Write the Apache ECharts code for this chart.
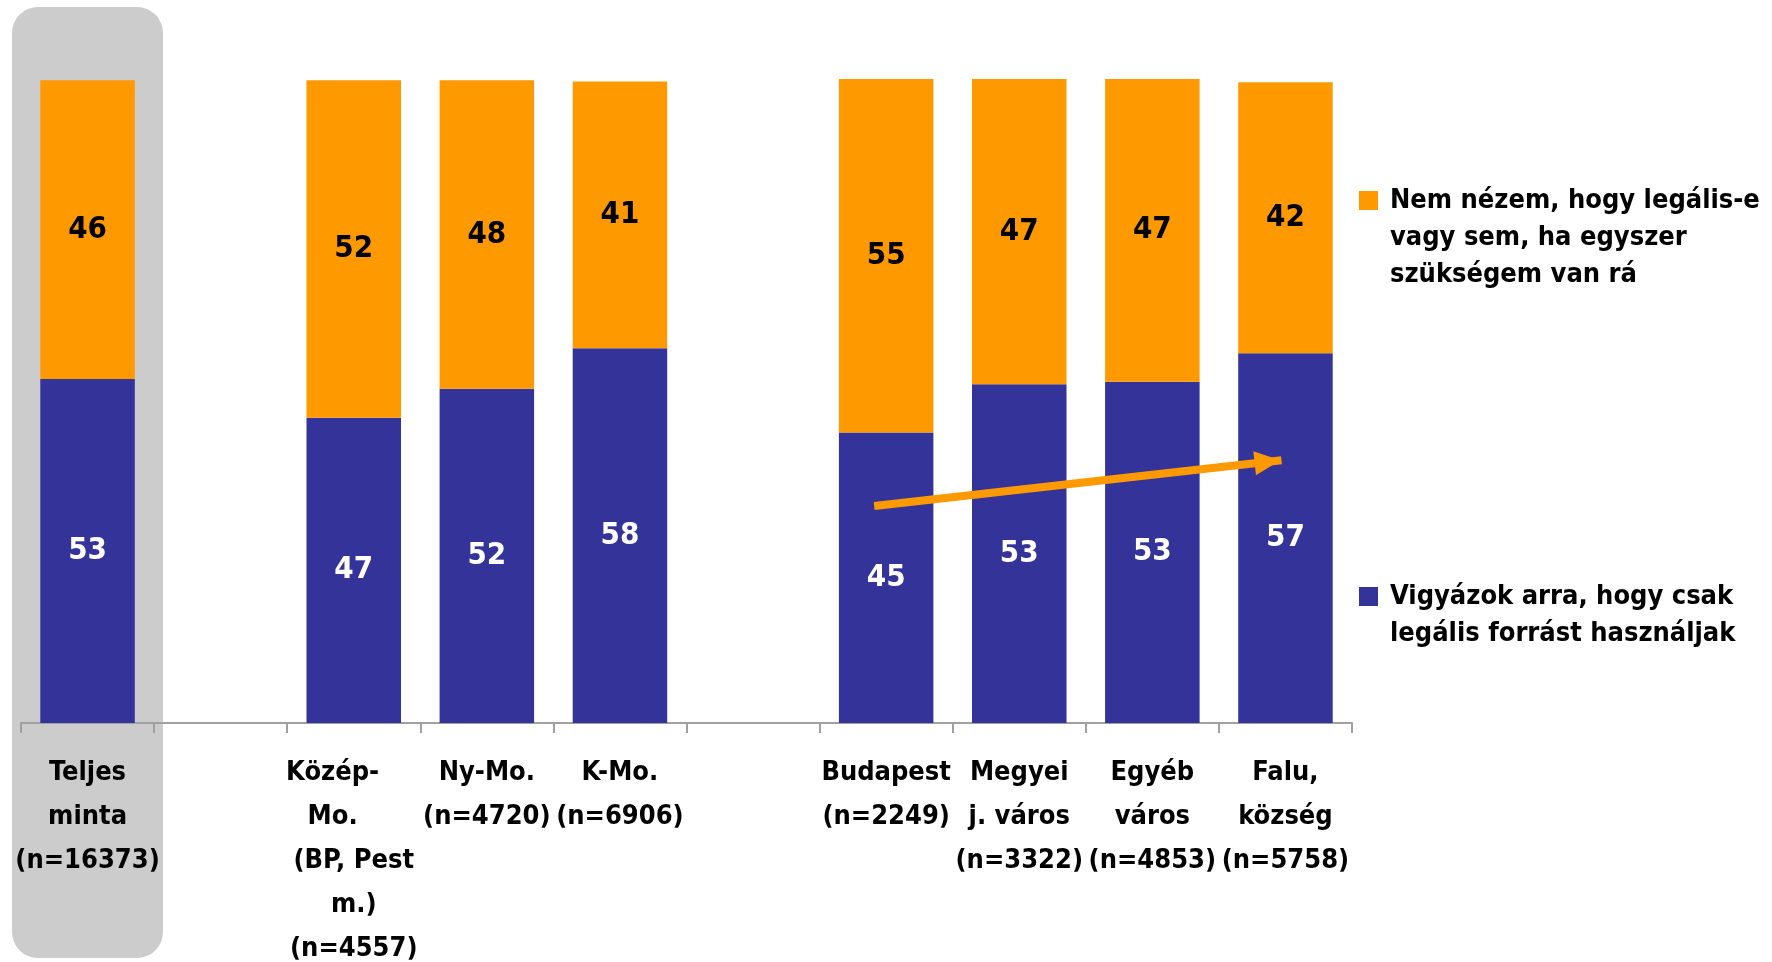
<!DOCTYPE html>
<html>
<head>
<meta charset="utf-8">
<title>Legális forrás</title>
<script src="https://cdn.jsdelivr.net/npm/echarts@6/dist/echarts.min.js"></script>
<style>
  html, body { margin: 0; padding: 0; background: #fff; }
  #chart { width: 1772px; height: 962px; }
</style>
</head>
<body>
<div id="chart"></div>
<script>
// kategóriák (üres oszlopok a csoportok között)
var categories = [
  'Teljes\nminta\n(n=16373)',
  '',
  'Közép-     \nMo.     \n(BP, Pest\nm.)\n(n=4557)',
  'Ny-Mo.\n(n=4720)',
  'K-Mo.\n(n=6906)',
  '',
  'Budapest\n(n=2249)',
  'Megyei\nj. város\n(n=3322)',
  'Egyéb\nváros\n(n=4853)',
  'Falu,\nközség\n(n=5758)'
];
var legalName = 'Vigyázok arra, hogy csak\nlegális forrást használjak';
var notLookName = 'Nem nézem, hogy legális-e\nvagy sem, ha egyszer\nszükségem van rá';
// %
var legalValues = [53.4, '-', 47.4, 51.9, 58.2, '-', 45.1, 52.6, 53.0, 57.4];
var notLookValues = [46.4, '-', 52.4, 47.9, 41.4, '-', 54.9, 47.4, 47.0, 42.1];
// trend nyíl (Budapest -> Falu), x = kategória sorszám
var arrowFrom = [5.91, 33.7];
var arrowTo = [8.97, 40.8];

var font = '"DejaVu Sans Condensed", "DejaVu Sans", sans-serif';

// négyzet a szöveg első sorához igazítva (a láthatatlan pontok csak a méretet adják)
function legendIcon(h) {
  return 'path://M25.99,0h0.01v0.01h-0.01Z M0,9h19v19h-19Z M0,' + (h - 0.01) + 'h0.01v0.01h-0.01Z';
}

var chart = echarts.init(document.getElementById('chart'));
var option = {
  animation: false,
  textStyle: { fontFamily: font },
  graphic: [
    {
      type: 'rect',
      z: -10,
      shape: { x: 12, y: 7, width: 151, height: 951, r: 26 },
      style: { fill: '#CCCCCC' }
    }
  ],
  grid: { left: 21, right: 420, top: 79, bottom: 239, outerBoundsMode: 'none' },
  legend: [
    {
      data: [notLookName],
      left: 1359,
      top: 182,
      padding: 0,
      itemWidth: 26,
      itemHeight: 111,
      icon: legendIcon(111),
      selectedMode: false,
      textStyle: { fontFamily: font, fontSize: 27, fontWeight: 'bold', color: '#000', lineHeight: 37 }
    },
    {
      data: [legalName],
      left: 1359,
      top: 578,
      padding: 0,
      itemWidth: 26,
      itemHeight: 74,
      icon: legendIcon(74),
      selectedMode: false,
      textStyle: { fontFamily: font, fontSize: 27, fontWeight: 'bold', color: '#000', lineHeight: 37 }
    }
  ],
  xAxis: [
    {
      type: 'category',
      data: categories,
      axisLine: { lineStyle: { color: '#A0A0A0', width: 2 } },
      axisTick: { show: true, length: 10, lineStyle: { color: '#A0A0A0', width: 2 } },
      axisLabel: {
        interval: 0,
        margin: 28,
        color: '#000',
        fontFamily: font,
        fontSize: 27,
        fontWeight: 'bold',
        lineHeight: 44,
        verticalAlign: 'top'
      }
    },
    {
      // rejtett segédtengely a nyílhoz
      type: 'value',
      min: -0.5,
      max: 9.5,
      show: false
    }
  ],
  yAxis: {
    type: 'value',
    min: 0,
    max: 100,
    show: false,
    splitLine: { show: false }
  },
  series: [
    {
      name: legalName,
      type: 'bar',
      stack: 'total',
      barWidth: '71%',
      itemStyle: { color: '#333399' },
      label: {
        show: true,
        position: 'inside',
        color: '#fff',
        fontFamily: font,
        fontSize: 31,
        fontWeight: 'bold',
        formatter: function (p) { return Math.round(p.value); }
      },
      data: legalValues
    },
    {
      name: notLookName,
      type: 'bar',
      stack: 'total',
      barWidth: '71%',
      itemStyle: { color: '#FF9900' },
      label: {
        show: true,
        position: 'inside',
        color: '#000',
        fontFamily: font,
        fontSize: 31,
        fontWeight: 'bold',
        formatter: function (p) { return Math.round(p.value); }
      },
      data: notLookValues
    },
    {
      name: 'trend',
      type: 'line',
      xAxisIndex: 1,
      data: [],
      z: 5,
      markLine: {
        silent: true,
        symbol: ['none', 'triangle'],
        symbolSize: [24, 26],
        symbolOffset: [0, [0, 14]],
        label: { show: false },
        lineStyle: { color: '#FF9900', width: 8, type: 'solid' },
        data: [[{ coord: arrowFrom }, { coord: arrowTo }]]
      }
    }
  ]
};
chart.setOption(option);
</script>
</body>
</html>
